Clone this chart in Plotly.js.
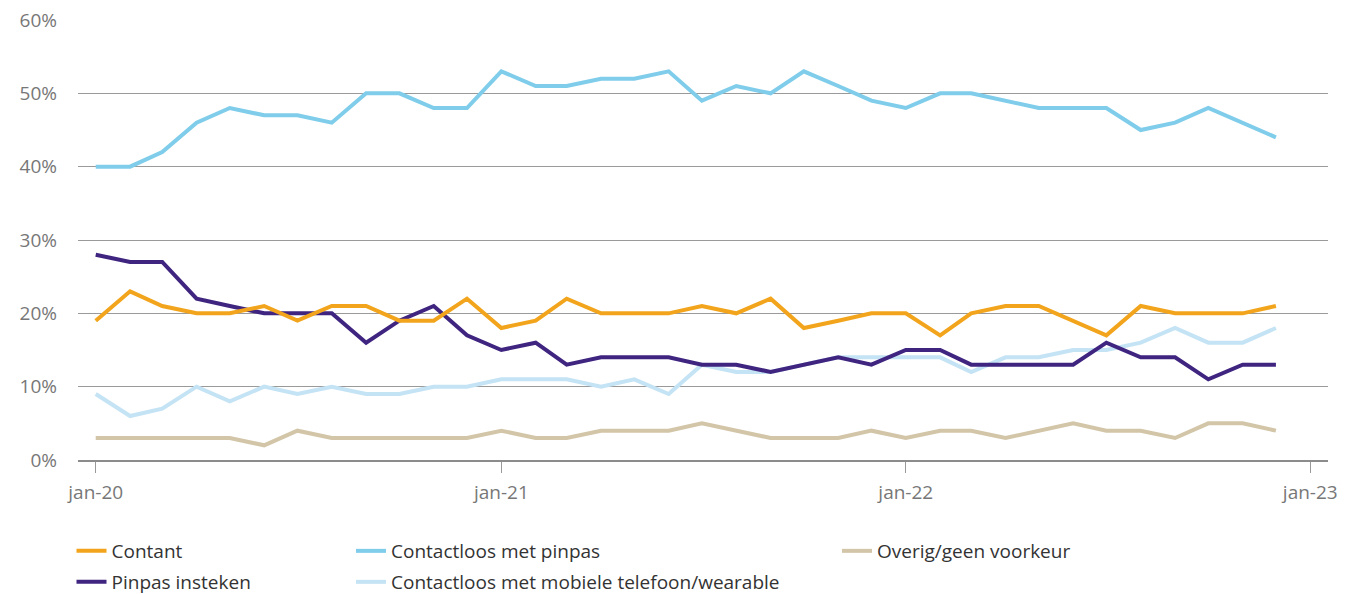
<html><head>
<meta charset="utf-8">
<style>
body { margin: 0; background: #fff; }
#chart { width: 1359px; height: 594px; }
</style>
<script src="https://cdn.plot.ly/plotly-3.0.1.min.js"></script>
</head>
<body>
<div id="chart"></div>
<script>
// maanden jan-20 t/m dec-22
const months = [
  '2020-01','2020-02','2020-03','2020-04','2020-05','2020-06','2020-07','2020-08','2020-09','2020-10','2020-11','2020-12',
  '2021-01','2021-02','2021-03','2021-04','2021-05','2021-06','2021-07','2021-08','2021-09','2021-10','2021-11','2021-12',
  '2022-01','2022-02','2022-03','2022-04','2022-05','2022-06','2022-07','2022-08','2022-09','2022-10','2022-11','2022-12'
];

const contant = [19,23,21,20,20,21,19,21,21,19,19,22, 18,19,22,20,20,20,21,20,22,18,19,20, 20,17,20,21,21,19,17,21,20,20,20,21];
const pinpasInsteken = [28,27,27,22,21,20,20,20,16,19,21,17, 15,16,13,14,14,14,13,13,12,13,14,13, 15,15,13,13,13,13,16,14,14,11,13,13];
const contactloosPinpas = [40,40,42,46,48,47,47,46,50,50,48,48, 53,51,51,52,52,53,49,51,50,53,51,49, 48,50,50,49,48,48,48,45,46,48,46,44];
const contactloosMobiel = [9,6,7,10,8,10,9,10,9,9,10,10, 11,11,11,10,11,9,13,12,12,13,14,14, 14,14,12,14,14,15,15,16,18,16,16,18];
const overig = [3,3,3,3,3,2,4,3,3,3,3,3, 4,3,3,4,4,4,5,4,3,3,3,4, 3,4,4,3,4,5,4,4,3,5,5,4];

const tickVals = ['2020-01-01','2021-01-01','2022-01-01','2023-01-01'];
const tickText = ['jan-20','jan-21','jan-22','jan-23'];

function line(name, y, color, legend) {
  return {
    x: months, y: y, name: name, type: 'scatter', mode: 'lines',
    line: {color: color, width: 4},
    legend: legend,
    hoverinfo: 'x+y+name'
  };
}

// volgorde van tekenen: contant bovenop
const data = [
  line('Overig/geen voorkeur', overig, '#d3c6a8', 'legend5'),
  line('Contactloos met mobiele telefoon/wearable', contactloosMobiel, '#c4e3f4', 'legend4'),
  line('Contactloos met pinpas', contactloosPinpas, '#7fcdea', 'legend3'),
  line('Pinpas insteken', pinpasInsteken, '#3f2580', 'legend2'),
  line('Contant', contant, '#f2a51c', 'legend')
];

const legFont = {family: 'Open Sans, sans-serif', size: 19, color: '#333'};
function leg(x, y) {
  return {x: x, y: y, xanchor: 'left', yanchor: 'middle', font: legFont, bgcolor: 'rgba(0,0,0,0)'};
}
const row1 = (460 - 551) / 440, row2 = (460 - 582) / 440;
const col1 = (71.5 - 78) / 1250, col2 = (351 - 78) / 1250, col3 = (837 - 78) / 1250;

const layout = {
  width: 1359, height: 594,
  margin: {l: 78, r: 31, t: 20, b: 134, autoexpand: false},
  paper_bgcolor: '#fff', plot_bgcolor: '#fff',
  font: {family: 'Open Sans, sans-serif', size: 19, color: '#777'},
  showlegend: true,
  legend: leg(col1, row1),
  legend2: leg(col1, row2),
  legend3: leg(col2, row1),
  legend4: leg(col2, row2),
  legend5: leg(col3, row1),
  xaxis: {
    type: 'date',
    range: ['2019-12-16', '2023-01-17'],
    tickvals: tickVals, ticktext: tickText,
    showgrid: false, zeroline: false,
    showline: true, linecolor: '#8c8c8c', linewidth: 2,
    ticks: 'outside', ticklen: 11, tickwidth: 1, tickcolor: '#999',
    ticklabelstandoff: 3,
    tickfont: {size: 19, color: '#777'},
    fixedrange: true
  },
  yaxis: {
    range: [0, 60], dtick: 10, ticksuffix: '%',
    showgrid: true, gridcolor: '#9a9a9a', gridwidth: 1,
    zeroline: false, showline: false, ticks: '',
    ticklabelstandoff: 20,
    tickfont: {size: 19, color: '#777'},
    fixedrange: true
  }
};

Plotly.newPlot('chart', data, layout, {displayModeBar: false, staticPlot: true});
</script>
</body></html>
